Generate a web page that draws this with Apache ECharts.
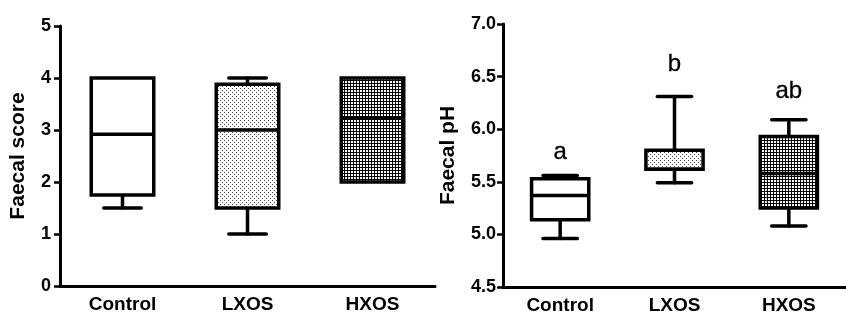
<!DOCTYPE html>
<html>
<head>
<meta charset="utf-8">
<script src="https://cdn.jsdelivr.net/npm/echarts@6/dist/echarts.min.js"></script>
<style>
html,body{margin:0;padding:0;background:#fff;}
#chart{width:846px;height:316px;}
</style>
</head>
<body>
<div id="chart"></div>
<script>
// ---- data ----
const categories = ['Control', 'LXOS', 'HXOS'];
// [min, Q1, median, Q3, max]
const scoreBoxes = [
  [1.5, 1.75, 2.92, 4.0, 4.0],
  [1.0, 1.5, 3.0, 3.88, 4.0],
  [2.0, 2.0, 3.23, 4.0, 4.0]
];
const phBoxes = [
  [4.96, 5.14, 5.37, 5.53, 5.56],
  [5.49, 5.62, 5.62, 5.80, 6.31],
  [5.08, 5.25, 5.58, 5.93, 6.09]
];
const sigLetters = ['a', 'b', 'ab'];
const sigLetterY = [5.78, 6.62, 6.36];
const scoreTicks = [0, 1, 2, 3, 4, 5];
const phTicks = [4.5, 5.0, 5.5, 6.0, 6.5, 7.0];

// ---- fill patterns ----
function makePattern(kind) {
  const c = document.createElement('canvas');
  const ctx = c.getContext('2d');
  if (kind === 'dots') {
    c.width = 4; c.height = 4;
    ctx.fillStyle = '#fff'; ctx.fillRect(0, 0, 4, 4);
    ctx.fillStyle = '#444';
    ctx.fillRect(0, 0, 1, 1);
    ctx.fillRect(2, 2, 1, 1);
  } else {
    c.width = 3; c.height = 3;
    ctx.fillStyle = '#000'; ctx.fillRect(0, 0, 3, 3);
    ctx.fillStyle = '#fff'; ctx.fillRect(0, 0, 2, 2);
  }
  return c;
}
const fills = ['#ffffff', {image: makePattern('dots'), repeat: 'repeat'}, {image: makePattern('checker'), repeat: 'repeat'}];

const LW = 3.5;
function renderBox(params, api) {
  const x = api.value(0);
  const lo = api.coord([x, api.value(1)]);
  const q1 = api.coord([x, api.value(2)]);
  const md = api.coord([x, api.value(3)]);
  const q3 = api.coord([x, api.value(4)]);
  const hi = api.coord([x, api.value(5)]);
  const band = api.size([1, 0])[0];
  const bw = band * 0.5, cw = band * 0.3;
  const cx = lo[0];
  const ls = {stroke: '#000', lineWidth: LW, lineCap: 'round'};
  const children = [];
  if (hi[1] < q3[1] - 0.5) {
    children.push({type: 'line', shape: {x1: cx, y1: q3[1], x2: cx, y2: hi[1]}, style: ls});
    children.push({type: 'line', shape: {x1: cx - cw / 2, y1: hi[1], x2: cx + cw / 2, y2: hi[1]}, style: ls});
  }
  if (lo[1] > q1[1] + 0.5) {
    children.push({type: 'line', shape: {x1: cx, y1: q1[1], x2: cx, y2: lo[1]}, style: ls});
    children.push({type: 'line', shape: {x1: cx - cw / 2, y1: lo[1], x2: cx + cw / 2, y2: lo[1]}, style: ls});
  }
  children.push({type: 'rect', shape: {x: cx - bw / 2, y: q3[1], width: bw, height: q1[1] - q3[1]},
    style: {fill: fills[params.dataIndex], stroke: '#000', lineWidth: LW}});
  children.push({type: 'line', shape: {x1: cx - bw / 2, y1: md[1], x2: cx + bw / 2, y2: md[1]}, style: {stroke: '#000', lineWidth: LW}});
  return {type: 'group', children: children};
}

function renderLetter(params, api) {
  const p = api.coord([api.value(0), api.value(1)]);
  return {type: 'text', x: p[0], y: p[1],
    style: {text: sigLetters[params.dataIndex], fill: '#000', stroke: '#000', lineWidth: 0.3,
      font: '24px "Liberation Sans"', align: 'center', verticalAlign: 'middle'}};
}

const font = 'Liberation Sans';
function xAxisCfg(gi) {
  return {
    type: 'category', gridIndex: gi, data: categories, boundaryGap: true,
    axisLine: {lineStyle: {color: '#000', width: 3}},
    axisTick: {alignWithLabel: true, length: 4, lineStyle: {width: 2.5, color: '#000'}},
    axisLabel: {color: '#000', fontFamily: font, fontWeight: 'bold', fontSize: 19, margin: 9},
    splitLine: {show: false}
  };
}
function yAxisCfg(gi, min, max, interval, name, gap, margin, fmt) {
  return {
    type: 'value', gridIndex: gi, min: min, max: max, interval: interval,
    name: name, nameLocation: 'middle', nameGap: gap, nameRotate: 90,
    nameTextStyle: {color: '#000', fontFamily: font, fontWeight: 'bold', fontSize: 21},
    axisLine: {show: true, lineStyle: {color: '#000', width: 3}},
    axisTick: {show: true, length: 6, lineStyle: {width: 2.5, color: '#000'}},
    axisLabel: {color: '#000', fontFamily: font, fontWeight: 'bold', fontSize: 18, margin: margin, formatter: fmt},
    splitLine: {show: false}
  };
}

const chart = echarts.init(document.getElementById('chart'), null, {renderer: 'canvas'});
chart.setOption({
  animation: false,
  backgroundColor: '#fff',
  grid: [
    {left: 60, right: 411, top: 26, bottom: 30},
    {left: 503, right: -12, top: 24, bottom: 29}
  ],
  xAxis: [xAxisCfg(0), xAxisCfg(1)],
  yAxis: [
    yAxisCfg(0, scoreTicks[0], scoreTicks[scoreTicks.length - 1], 1, 'Faecal score', 31, 9, v => String(v)),
    yAxisCfg(1, phTicks[0], phTicks[phTicks.length - 1], 0.5, 'Faecal pH', 44, 7, v => v.toFixed(1))
  ],
  series: [
    {type: 'custom', xAxisIndex: 0, yAxisIndex: 0, renderItem: renderBox,
      data: scoreBoxes.map((b, i) => [i].concat(b))},
    {type: 'custom', xAxisIndex: 1, yAxisIndex: 1, renderItem: renderBox,
      data: phBoxes.map((b, i) => [i].concat(b))},
    {type: 'custom', xAxisIndex: 1, yAxisIndex: 1, renderItem: renderLetter, silent: true,
      data: sigLetterY.map((v, i) => [i, v])}
  ]
});
</script>
</body>
</html>
